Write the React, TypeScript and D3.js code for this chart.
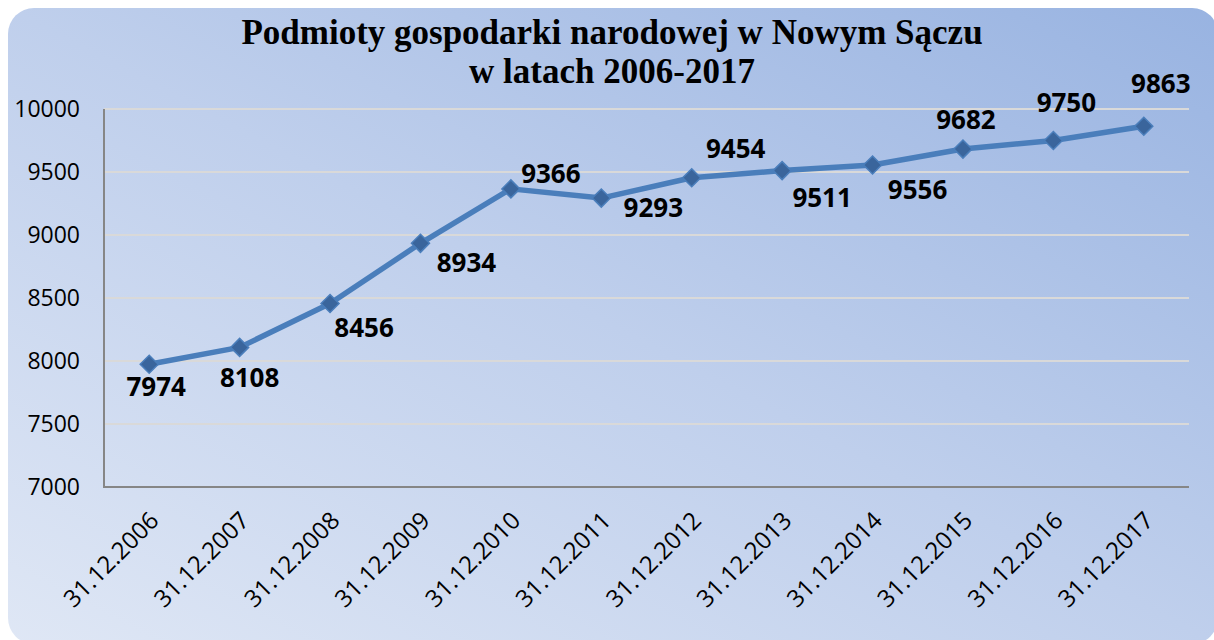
import React from "react";
import * as d3 from "d3";

const categories = [
  "31.12.2006", "31.12.2007", "31.12.2008", "31.12.2009", "31.12.2010", "31.12.2011",
  "31.12.2012", "31.12.2013", "31.12.2014", "31.12.2015", "31.12.2016", "31.12.2017",
];
const values = [7974, 8108, 8456, 8934, 9366, 9293, 9454, 9511, 9556, 9682, 9750, 9863];
const yTicks = [7000, 7500, 8000, 8500, 9000, 9500, 10000];
const titleLines = ["Podmioty gospodarki narodowej w Nowym Sączu", "w latach 2006-2017"];
// label offsets (style): [dx, dy baseline] relative to the marker
const labelOffsets: [number, number][] = [
  [7, 32], [10, 40], [34, 33], [46, 29], [40, -6], [52, 19],
  [44, -20], [40, 36], [45, 34], [3, -20], [13, -29], [17, -33],
];

const W = 1214;
const H = 640;
const plot = { left: 104, right: 1189, top: 109, bottom: 487 };

export default function App() {
  const x = d3.scaleBand().domain(categories).range([plot.left, plot.right]);
  const y = d3.scaleLinear().domain([7000, 10000]).range([plot.bottom, plot.top]);
  const cx = (c: string) => (x(c) as number) + x.bandwidth() / 2;
  const line = d3
    .line<number>()
    .x((_, i) => cx(categories[i]))
    .y((d) => y(d));
  const diamondPath = `M0,-9L9,0L0,9L-9,0Z`;

  return (
    <div style={{ position: "fixed", left: 0, top: 0, width: W, height: H }}>
      <svg width={W} height={H} style={{ display: "block" }}>
        <defs>
          <linearGradient id="bg" x1="0" y1="1" x2="1" y2="0">
            <stop offset="0" stopColor="#dfe7f5" />
            <stop offset="0.5" stopColor="#bfcfec" />
            <stop offset="1" stopColor="#98b3e1" />
          </linearGradient>
        </defs>
        <rect x={0} y={0} width={W} height={H} fill="#ffffff" />
        <rect x={8} y={8} width={1210} height={636} rx={26} ry={26} fill="url(#bg)" />

        {titleLines.map((t, i) => (
          <text
            key={i}
            x={612}
            y={44 + i * 39}
            textAnchor="middle"
            fontFamily="'Liberation Serif', 'Times New Roman', serif"
            fontWeight="bold"
            fontSize={35}
            fill="#000"
          >
            {t}
          </text>
        ))}

        {yTicks.map((t) => (
          <g key={t}>
            {t !== 7000 && (
              <line x1={plot.left} x2={plot.right} y1={y(t)} y2={y(t)} stroke="#d9d9d9" strokeWidth={2} />
            )}
            <text
              x={80}
              y={y(t)}
              dy="0.36em"
              textAnchor="end"
              fontFamily="'Open Sans', sans-serif"
              fontSize={23}
              fill="#000"
            >
              {t}
            </text>
          </g>
        ))}
        <line x1={plot.left} x2={plot.left} y1={plot.top} y2={plot.bottom} stroke="#868686" strokeWidth={2} />
        <line x1={plot.left - 1} x2={plot.right} y1={plot.bottom} y2={plot.bottom} stroke="#868686" strokeWidth={2} />

        {categories.map((c) => (
          <text
            key={c}
            transform={`translate(${cx(c) + 5},${plot.bottom + 29}) rotate(-45)`}
            textAnchor="end"
            dy="0.36em"
            fontFamily="'Open Sans', sans-serif"
            fontSize={24}
            fill="#000"
          >
            {c}
          </text>
        ))}

        <path d={line(values) || ""} fill="none" stroke="#4a7ebb" strokeWidth={5.5} strokeLinejoin="round" />
        {values.map((v, i) => (
          <path
            key={i}
            d={diamondPath}
            transform={`translate(${cx(categories[i])},${y(v)})`}
            fill="#3a659c"
            stroke="#4a7ebb"
            strokeWidth={1.5}
          />
        ))}
        {values.map((v, i) => (
          <text
            key={i}
            x={cx(categories[i]) + labelOffsets[i][0]}
            y={y(v) + labelOffsets[i][1]}
            textAnchor="middle"
            fontFamily="'Open Sans', sans-serif"
            fontWeight="bold"
            fontSize={26}
            fill="#000"
          >
            {v}
          </text>
        ))}
      </svg>
    </div>
  );
}
